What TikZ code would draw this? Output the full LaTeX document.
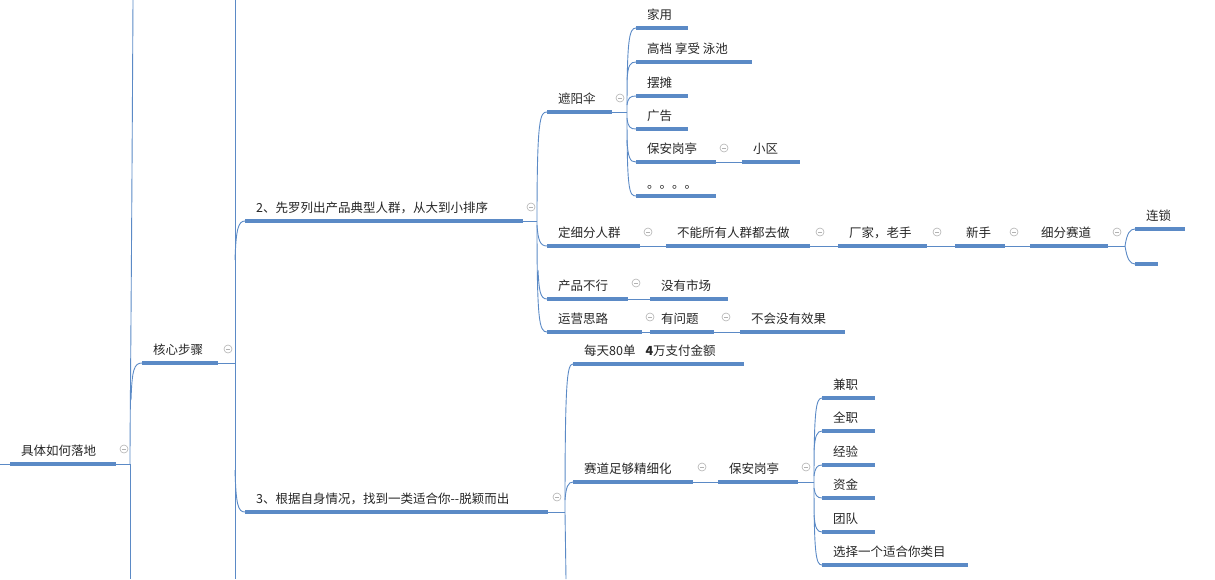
\documentclass[tikz,border=0pt]{standalone}
\usepackage{fontspec}
\newfontfamily\cjk{Noto Sans CJK SC}
\usetikzlibrary{calc}
\begin{document}
\begin{tikzpicture}[x=1pt,y=-1pt,
  ul/.style={line width=3.4pt,draw=bl},
  cn/.style={line width=0.9pt,draw=bl},
  tx/.style={anchor=south west,inner sep=0pt,font=\cjk\fontsize{12.5}{14}\selectfont,text=black!85},
  cc/.style={circle,draw=gray!60,line width=0.6pt,minimum size=8pt,inner sep=0pt,
    path picture={\draw[gray!60,line width=0.6pt] ([xshift=-2pt]path picture bounding box.center)--([xshift=2pt]path picture bounding box.center);}}]
\definecolor{bl}{HTML}{5B8AC6}
\useasboundingbox (0,0) rectangle (1215,579);
\newcommand\mn[5]{\coordinate (#1-l) at (#2,#4);\coordinate (#1-r) at (#3,#4);
  \draw[ul] (#1-l)--(#1-r);
  \node[tx] (#1) at (#2+11,#4-7) {#5};}
\newcommand\ci[3]{\node[cc] (#1) at (#2,#3) {};}
\newcommand\fk[3]{\coordinate (#1) at (#2,#3);}

% root
\draw[cn] (0,464)--(10,464);
\mn{root}{10}{116}{464}{具体如何落地}
\ci{rc}{124}{449}
\fk{f0}{130}{464}
\draw[cn] (root-r)--(f0);
\draw[cn] (f0)--(130,579);
\draw[cn] (f0) .. controls (130,420) and (131,363) .. (133,0);
\mn{hx}{142}{218}{363}{核心步骤}
\draw[cn] (131,400) .. controls (132,370) and (134,363) .. (hx-l);
\ci{hc}{228}{349}
\fk{f1}{235}{363}
\draw[cn] (hx-r)--(f1);
\draw[cn] (235,0)--(235,579);

% level 2
\mn{n2}{245}{523}{221}{2、先罗列出产品典型人群，从大到小排序}
\draw[cn] (235,260) .. controls (236,230) and (238,221) .. (n2-l);
\ci{c2}{531}{207}
\mn{n3}{245}{548}{512}{3、根据自身情况，找到一类适合你--脱颖而出}
\draw[cn] (235,470) .. controls (236,505) and (238,512) .. (n3-l);
\ci{c3}{557}{497}

% node 2 children
\fk{f2}{537}{221}
\draw[cn] (n2-r)--(f2);
\mn{zy}{547}{612}{112}{遮阳伞}
\ci{czy}{620}{98}
\mn{dx}{547}{640}{246}{定细分人群}
\ci{cdx}{648}{232}
\mn{cp}{547}{628}{299}{产品不行}
\ci{ccp}{636}{283}
\mn{yy}{547}{642}{332}{运营思路}
\ci{cyy}{650}{317}
\draw[cn] (zy-l) .. controls (540,112) and (537,118) .. (f2);
\draw[cn] (f2) .. controls (537,320) and (539,332) .. (yy-l);
\draw[cn] (538,270) .. controls (539,290) and (540,299) .. (cp-l);
\draw[cn] (537,225) .. controls (538,240) and (540,246) .. (dx-l);

% 遮阳伞 children
\fk{f3}{627}{112}
\draw[cn] (zy-r)--(f3);
\mn{a1}{636}{688}{28}{家用}
\mn{a2}{636}{752}{62}{高档 享受 泳池}
\mn{a3}{636}{688}{96}{摆摊}
\mn{a4}{636}{688}{129}{广告}
\mn{a5}{636}{716}{162}{保安岗亭}
\ci{ca5}{724}{148}
\mn{a6}{636}{716}{196}{。。。。}
\draw[cn] (f3) .. controls (627,40) and (629,28) .. (a1-l);
\draw[cn] (f3) .. controls (627,190) and (629,196) .. (a6-l);
\draw[cn] (627,80) .. controls (628,65) and (630,62) .. (a2-l);
\draw[cn] (627,105) .. controls (628,98) and (630,96) .. (a3-l);
\draw[cn] (627,118) .. controls (628,127) and (630,129) .. (a4-l);
\draw[cn] (627,140) .. controls (628,158) and (630,162) .. (a5-l);
\mn{xq}{742}{800}{162}{小区}
\draw[cn] (a5-r)--(xq-l);

% 定细分人群 chain
\mn{b1}{666}{810}{246}{不能所有人群都去做}
\ci{cb1}{820}{232}
\mn{b2}{838}{927}{246}{厂家，老手}
\ci{cb2}{937}{232}
\mn{b3}{955}{1005}{246}{新手}
\ci{cb3}{1014}{232}
\mn{b4}{1030}{1108}{246}{细分赛道}
\ci{cb4}{1117}{232}
\draw[cn] (dx-r)--(b1-l);
\draw[cn] (b1-r)--(b2-l);
\draw[cn] (b2-r)--(b3-l);
\draw[cn] (b3-r)--(b4-l);
\fk{f4}{1125}{246}
\draw[cn] (b4-r)--(f4);
\mn{b5}{1135}{1185}{229}{连锁}
\coordinate (b6-l) at (1135,264);\coordinate (b6-r) at (1158,264);
\draw[ul] (b6-l)--(b6-r);
\draw[cn] (f4) .. controls (1127,233) and (1130,229) .. (b5-l);
\draw[cn] (f4) .. controls (1127,259) and (1130,264) .. (b6-l);

% 产品不行 / 运营思路
\mn{c1}{650}{728}{299}{没有市场}
\draw[cn] (cp-r)--(c1-l);
\mn{d1}{650}{714}{332}{有问题}
\ci{cd1}{726}{317}
\draw[cn] (yy-r)--(d1-l);
\mn{d2}{740}{845}{332}{不会没有效果}
\draw[cn] (d1-r)--(d2-l);

% node 3 children
\fk{f5}{565}{512}
\draw[cn] (n3-r)--(f5);
\mn{e1}{573}{744}{364}{每天80单\hspace{0.8em}\textbf{4}万支付金额}
\mn{e2}{573}{693}{482}{赛道足够精细化}
\ci{ce2}{702}{467}
\draw[cn] (f5) .. controls (565,380) and (567,364) .. (e1-l);
\draw[cn] (565,500) .. controls (566,487) and (568,482) .. (e2-l);
\draw[cn] (f5)--(566,579);
\mn{g0}{718}{798}{482}{保安岗亭}
\ci{cg0}{806}{467}
\draw[cn] (e2-r)--(g0-l);
\fk{f6}{814}{482}
\draw[cn] (g0-r)--(f6);
\mn{g1}{822}{875}{398}{兼职}
\mn{g2}{822}{875}{431}{全职}
\mn{g3}{822}{875}{465}{经验}
\mn{g4}{822}{875}{498}{资金}
\mn{g5}{822}{875}{532}{团队}
\mn{g6}{822}{968}{565}{选择一个适合你类目}
\draw[cn] (f6) .. controls (814,410) and (816,398) .. (g1-l);
\draw[cn] (f6) .. controls (814,555) and (816,565) .. (g6-l);
\draw[cn] (814,450) .. controls (815,436) and (817,431) .. (g2-l);
\draw[cn] (814,476) .. controls (815,468) and (817,465) .. (g3-l);
\draw[cn] (814,488) .. controls (815,495) and (817,498) .. (g4-l);
\draw[cn] (814,515) .. controls (815,528) and (817,532) .. (g5-l);
\end{tikzpicture}
\end{document}
